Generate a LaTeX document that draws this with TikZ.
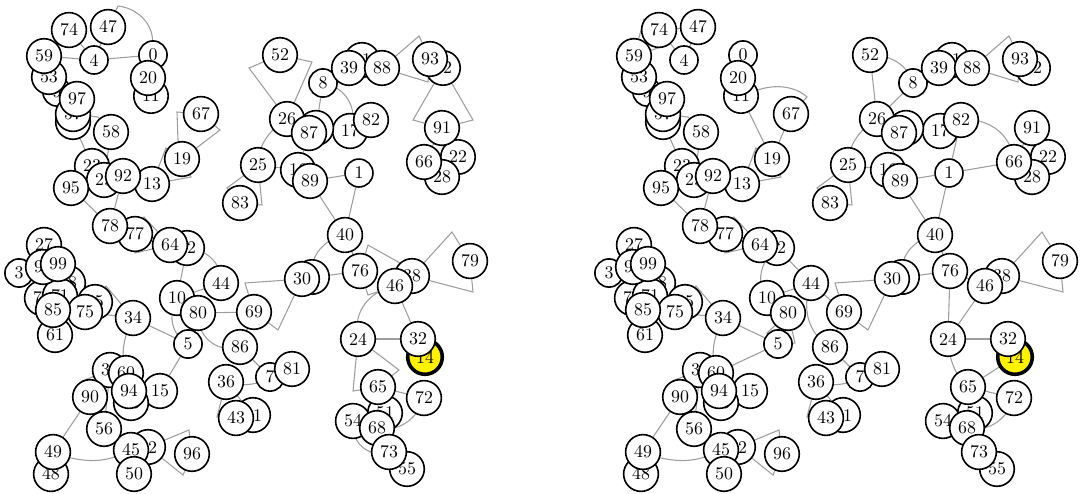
\documentclass[tikz,border=0pt]{standalone}

\pgfdeclarelayer{edges}
\pgfsetlayers{edges,main}

% vertex positions (same in both panels), label/x/y in pixels
\newcommand\vertexlist{0/153/55, 1/359/173, 3/19/273, 4/94/60, 5/188/344, 7/270/377, 8/323/83, 9/57/92, 10/177/298, 11/151/96, 12/443/68, 13/152/184, 15/160/391, 16/298/170, 17/350/131, 18/68/283, 19/182/159, 20/148/78, 21/312/277, 22/458/157, 23/92/166, 24/358/339, 25/258/165, 26/287/119, 27/44/245, 28/442/177, 29/104/180, 30/302/279, 31/362/60, 32/418/339, 33/73/122, 34/133/318, 35/95/302, 36/226/382, 37/110/370, 38/412/276, 39/349/68, 40/345/235, 41/253/415, 42/148/447, 43/236/418, 44/221/283, 45/131/450, 46/395/286, 47/108/27, 48/51/474, 49/53/452, 50/134/474, 51/385/413, 52/280/55, 53/49/77, 54/353/421, 55/407/469, 56/104/429, 57/73/114, 58/111/132, 59/44/56, 60/126/373, 61/55/335, 62/187/248, 63/131/403, 64/170/245, 65/378/387, 66/424/162, 67/201/114, 68/377/428, 69/254/312, 70/42/298, 71/60/296, 72/424/398, 73/389/452, 74/69/30, 75/85/312, 76/360/271, 77/135/234, 78/110/226, 79/470/261, 80/198/313, 81/292/369, 82/371/120, 83/240/203, 84/316/128, 85/53/310, 86/240/347, 87/309/133, 88/382/68, 89/310/181, 90/90/397, 91/442/128, 92/123/176, 93/430/59, 94/129/391, 95/71/188, 96/192/454, 97/77/99, 98/43/267, 99/58/264}

\newcommand\drawvertices{%
  \node[hot] (14) at (425,357) {14};
  \foreach \n/\x/\y in \vertexlist {\node[vtx] (\n) at (\x,\y) {\n};}
}

\begin{document}
\begin{tikzpicture}[
    x=0.56pt, y=-0.56pt,
    vtx/.style={circle, draw, line width=0.9pt, fill=white, inner sep=2.6pt},
    hot/.style={vtx, fill=yellow, line width=2pt, minimum size=19pt},
    link/.style={draw=black!38, line width=0.6pt}
]
    \useasboundingbox (0,0) rectangle (1081,493);

    % Left panel
    \begin{scope}[name prefix=L-]
    \drawvertices
    \begin{pgfonlayer}{edges}
    \foreach \a/\b in {74/4, 47/4, 59/4, 4/0, 33/23, 58/29, 95/78, 92/78, 8/84, 8/39, 25/16, 87/16, 89/1, 89/40, 1/40, 91/66, 62/10, 10/44, 80/69, 34/75, 34/5, 5/15, 37/56, 90/49, 56/45, 36/41, 86/7, 69/86, 30/76, 40/76, 46/32, 24/32, 65/72}
      \draw[link] (\a) -- (\b);
    % kinked edges
    \draw[link] (0) .. controls (152,22) and (136,8) .. (118,6) -- (47);
    \draw[link] (57) -- (98,117) -- (58);
    \draw[link] (13) -- (166,148) -- (19) (13) -- (191,177) -- (19);
    \draw[link] (19) -- (220,130) -- (67) (67) -- (177,112) -- (178,140) -- (19);
    \draw[link] (77) -- (144,217) -- (64) (77) -- (135,253) -- (64);
    \draw[link] (26) -- (249,68) -- (52) (52) -- (312,62) -- (26);
    \draw[link] (88) -- (419,36) -- (93) (88) -- (428,82) -- (93);
    \draw[link] (12) -- (413,120) -- (91) (12) -- (473,120) -- (91);
    \draw[link] (25) -- (227,188) -- (83) (25) -- (262,205) -- (83);
    \draw[link] (34) -- (106,286) -- (35);
    \draw[link] (37) -- (82,381) -- (90);
    \draw[link] (42) -- (189,430) -- (96) (42) -- (183,475) -- (96);
    \draw[link] (36) -- (217,417) -- (43);
    \draw[link] (30) -- (245,283) -- (69) (30) -- (278,330) -- (69);
    \draw[link] (76) -- (368,245) -- (400,263) -- (38) (76) -- (368,295) -- (46);
    \draw[link] (38) -- (452,232) -- (79) (38) -- (473,292) -- (79);
    \draw[link] (24) -- (353,391) -- (65) (24) -- (399,370) -- (65);
    % curved edges
    \draw[link] (8) to[bend left=40] (17);
    \draw[link] (26) to[bend right=20] (25);
    \draw[link] (62) to[bend left=30] (44);
    \draw[link] (10) to[bend right=30] (5);
    \draw[link] (80) to[bend right=40] (86);
    \draw[link] (34) to[bend right=15] (60);
    \draw[link] (49) to[bend right=20] (45);
    \draw[link] (36) to[bend right=15] (7);
    \draw[link] (40) to[bend right=30] (21);
    \draw[link] (46) to[bend right=35] (24);
    \draw[link] (72) to[bend left=30] (68);
    \draw[link] (54) to[bend right=40] (73);
    \end{pgfonlayer}
    \end{scope}

    % Right panel
    \begin{scope}[shift={(590,0)}, name prefix=R-]
    \drawvertices
    \begin{pgfonlayer}{edges}
    \foreach \a/\b in {74/47, 74/4, 47/4, 11/19, 67/19, 33/23, 58/29, 95/78, 92/78, 52/26, 26/8, 25/16, 87/16, 89/1, 89/40, 1/40, 82/1, 1/66, 91/22, 91/66, 62/44, 10/44, 44/69, 34/75, 34/5, 5/60, 37/56, 90/49, 56/45, 36/41, 86/7, 69/86, 30/76, 40/76, 76/24, 76/46, 46/24, 24/32, 65/14, 65/72}
      \draw[link] (\a) -- (\b);
    % kinked edges
    \draw[link] (74) -- (54,19) -- (59) (59) -- (80,44) -- (74);
    \draw[link] (11) .. controls (185,84) and (205,86) .. (217,97) -- (67);
    \draw[link] (57) -- (98,117) -- (58);
    \draw[link] (13) -- (166,148) -- (19) (13) -- (191,177) -- (19);
    \draw[link] (77) -- (144,217) -- (64) (77) -- (135,253) -- (64);
    \draw[link] (88) -- (419,36) -- (93) (88) -- (428,82) -- (93);
    \draw[link] (25) -- (227,188) -- (83) (25) -- (262,205) -- (83);
    \draw[link] (80) -- (177,333) -- (5) (80) -- (205,343) -- (5);
    \draw[link] (34) -- (106,286) -- (35);
    \draw[link] (37) -- (82,381) -- (90);
    \draw[link] (42) -- (189,430) -- (96) (42) -- (183,475) -- (96);
    \draw[link] (36) -- (217,417) -- (43);
    \draw[link] (30) -- (245,283) -- (69) (30) -- (278,330) -- (69);
    \draw[link] (38) -- (452,232) -- (79) (38) -- (473,292) -- (79);
    % curved edges
    \draw[link] (52) to[bend left=25] (8);
    \draw[link] (26) to[bend right=20] (25);
    \draw[link] (82) to[bend left=35] (66);
    \draw[link] (62) to[bend right=30] (10);
    \draw[link] (44) to[bend right=30] (86);
    \draw[link] (34) to[bend right=15] (60);
    \draw[link] (49) to[bend right=20] (45);
    \draw[link] (36) to[bend right=15] (7);
    \draw[link] (40) to[bend right=30] (21);
    \draw[link] (24) to[bend right=15] (65);
    \draw[link] (72) to[bend left=30] (68);
    \end{pgfonlayer}
    \end{scope}
\end{tikzpicture}
\end{document}
